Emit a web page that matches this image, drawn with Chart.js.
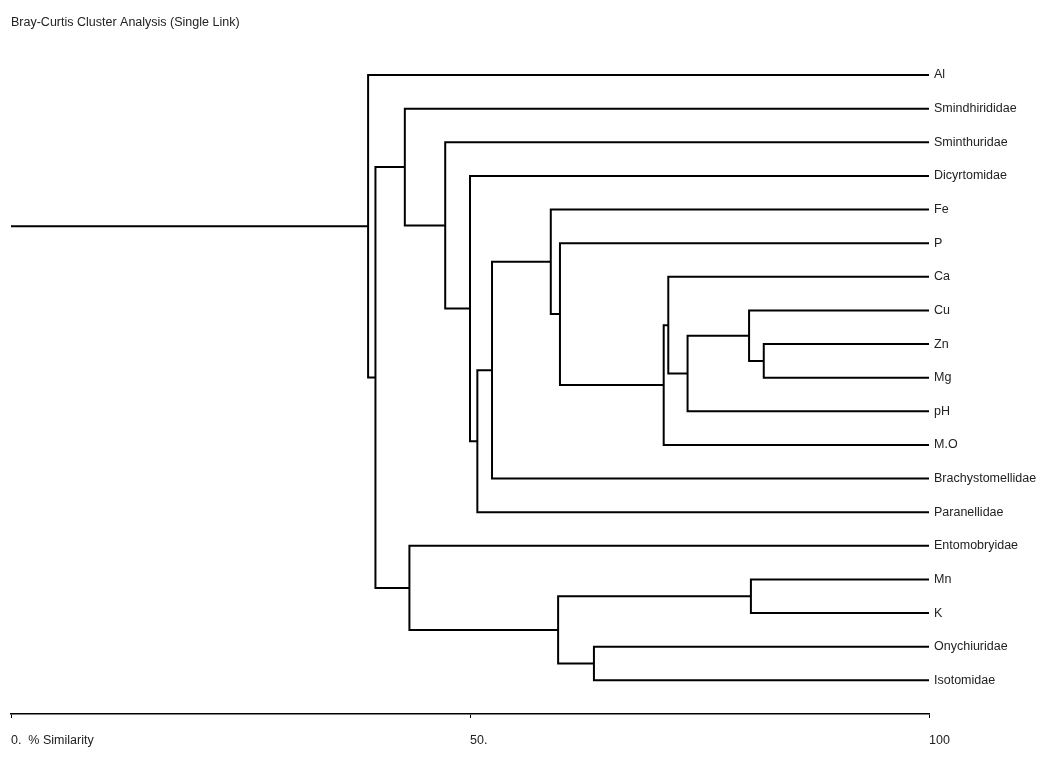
<!DOCTYPE html>
<html>
<head>
<meta charset="utf-8">
<script src="https://cdn.jsdelivr.net/npm/chart.js@4/dist/chart.umd.min.js"></script>
<style>
    html, body { margin: 0; padding: 0; background: #fff; }
    #wrap { width: 1051px; height: 783px; position: relative; }
</style>
</head>
<body>
<div id="wrap"><canvas id="dendro"></canvas></div>
<script>
// leaves, top to bottom
const leaves = ["Al", "Smindhirididae", "Sminthuridae", "Dicyrtomidae", "Fe", "P", "Ca", "Cu", "Zn", "Mg",
    "pH", "M.O", "Brachystomellidae", "Paranellidae", "Entomobryidae", "Mn", "K", "Onychiuridae", "Isotomidae"];
// merges: index < leaves.length is a leaf, otherwise cluster (leaves.length + merge number)
const mergeLeft = [8, 7, 15, 20, 6, 23, 17, 5, 21, 4, 28, 29, 3, 2, 14, 1, 34, 0];
const mergeRight = [9, 19, 16, 10, 22, 11, 18, 24, 25, 26, 12, 13, 30, 31, 27, 32, 33, 35];
const mergeSimilarity = [82.0, 80.4, 80.6, 73.7, 71.6, 71.1, 63.5, 59.8, 59.6, 58.8, 52.4, 50.8, 50.0, 47.3, 43.4, 42.9, 39.7, 38.9];
const axisTicks = [0, 50, 100];
const axisTickLabels = ["0.  % Similarity", "50.", "100"];
const title = "Bray-Curtis Cluster Analysis (Single Link)";

(function () {
    const n = leaves.length;
    const font = { family: "'Liberation Sans Narrow', 'Arial Narrow', 'Liberation Sans', Arial, sans-serif", size: 12.5 };

    function nodeY(i) {
        if (i < n) return i;
        const k = i - n;
        return (nodeY(mergeLeft[k]) + nodeY(mergeRight[k])) / 2;
    }
    function nodeHeight(i) {
        return i < n ? 100 : mergeSimilarity[i - n];
    }

    const lineStyle = {
        showLine: true,
        borderColor: '#000',
        borderWidth: 2,
        pointRadius: 0,
        pointHoverRadius: 0,
        tension: 0,
        borderJoinStyle: 'miter',
        fill: false,
    };

    const datasets = mergeSimilarity.map((h, k) => {
        const a = mergeLeft[k], b = mergeRight[k];
        return {
            ...lineStyle,
            data: [
                {x: nodeHeight(a), y: nodeY(a)},
                {x: h, y: nodeY(a)},
                {x: h, y: nodeY(b)},
                {x: nodeHeight(b), y: nodeY(b)},
            ],
        };
    });
    // stem of the root
    const root = n + mergeSimilarity.length - 1;
    datasets.push({
        ...lineStyle,
        data: [{x: 0, y: nodeY(root)}, {x: nodeHeight(root), y: nodeY(root)}],
    });

    new Chart(document.getElementById('dendro'), {
        type: 'scatter',
        data: { datasets: datasets },
        options: {
            responsive: true,
            maintainAspectRatio: false,
            animation: false,
            layout: { padding: { left: 11, right: 0, top: 0, bottom: 0 } },
            scales: {
                x: {
                    type: 'linear',
                    min: 0,
                    max: 100,
                    afterBuildTicks: (scale) => { scale.ticks = axisTicks.map(v => ({value: v})); },
                    afterFit: (scale) => {
                        scale.height = 69;
                        scale.paddingLeft = 0; // tick padding must not push the plot right
                    },
                    ticks: {
                        align: 'start',
                        color: '#222',
                        font: font,
                        padding: 15,
                        maxRotation: 0,
                        autoSkip: false,
                        callback: (v) => axisTickLabels[axisTicks.indexOf(v)],
                    },
                    grid: {
                        drawOnChartArea: false,
                        drawTicks: true,
                        tickLength: 4,
                        color: '#000',
                        lineWidth: 1,
                    },
                    border: { display: true, color: '#000', width: 1.5 },
                },
                y: {
                    type: 'linear',
                    position: 'right',
                    reverse: true,
                    min: -1,
                    max: 19,
                    afterBuildTicks: (scale) => { scale.ticks = leaves.map((_, i) => ({value: i})); },
                    afterFit: (scale) => { scale.width = 122; },
                    ticks: {
                        color: '#222',
                        font: font,
                        padding: 5,
                        autoSkip: false,
                        callback: (v) => leaves[v],
                    },
                    grid: { display: false, drawTicks: false },
                    border: { display: false },
                },
            },
            plugins: {
                legend: { display: false },
                tooltip: { enabled: false },
                title: {
                    display: true,
                    text: title,
                    align: 'start',
                    color: '#222',
                    font: { ...font, weight: 'normal' },
                    padding: { top: 15, bottom: 11.4 },
                },
            },
        },
    });
})();
</script>
</body>
</html>
